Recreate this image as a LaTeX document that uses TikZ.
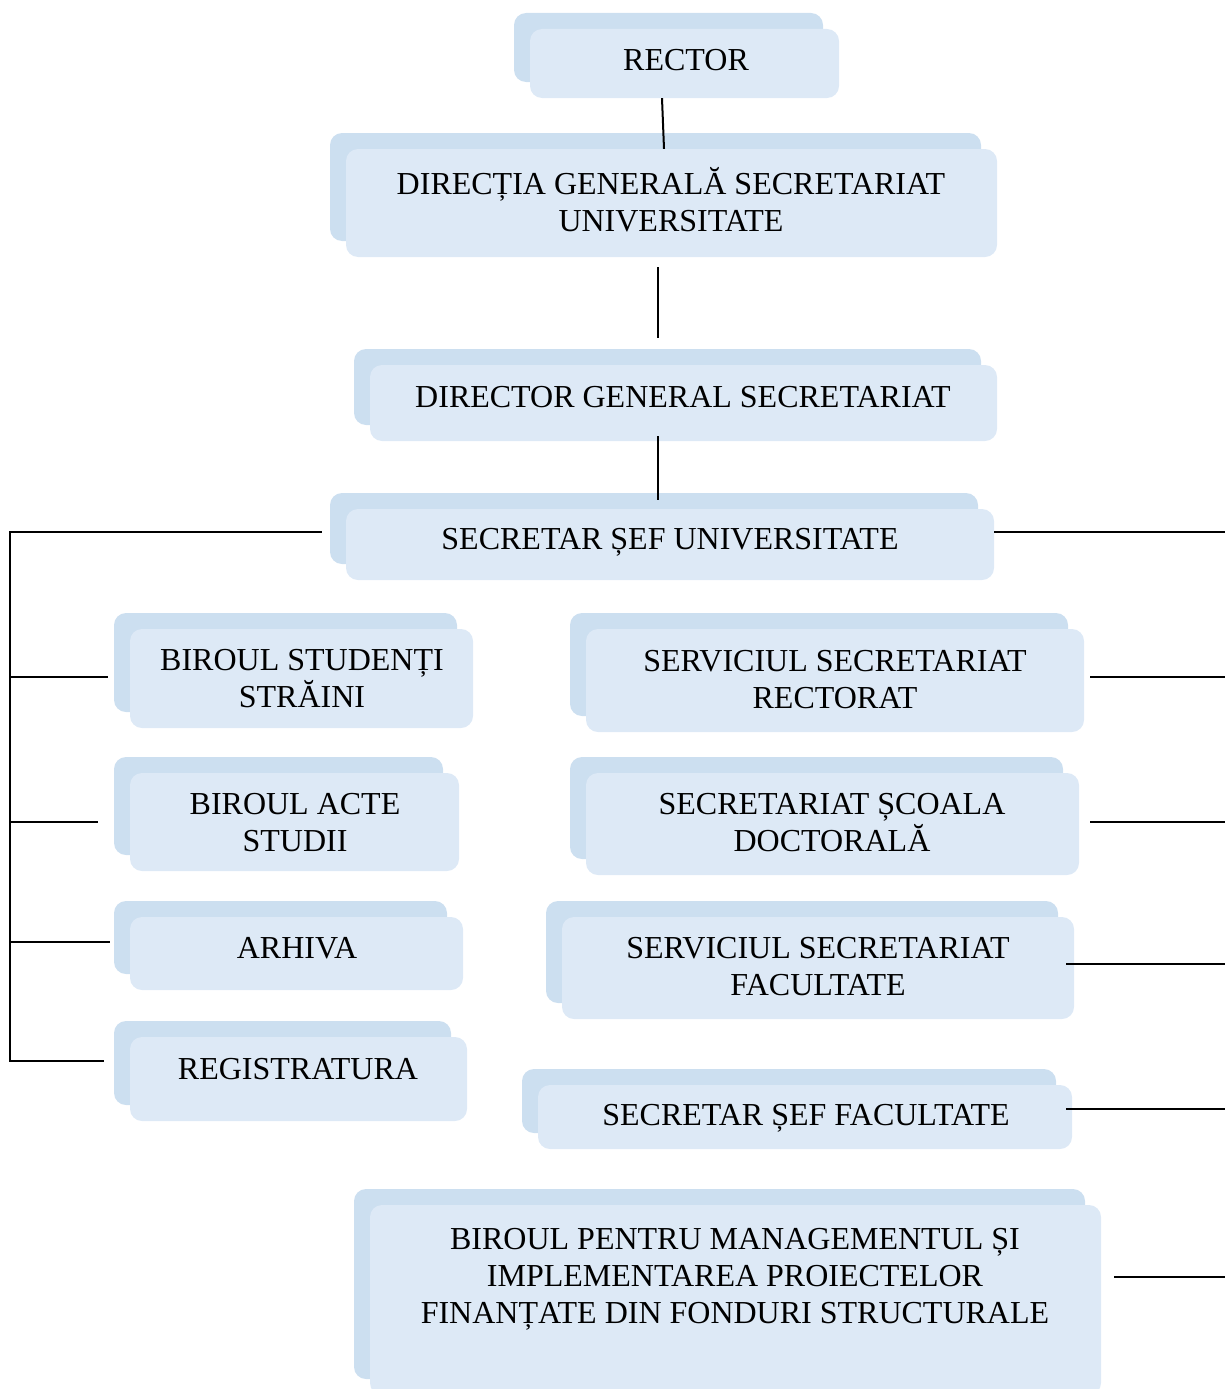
\documentclass[tikz,border=0pt]{standalone}
\usepackage{fontspec}
\setmainfont{Liberation Serif}
\usetikzlibrary{shadows}
\definecolor{boxback}{RGB}{204,223,240}
\definecolor{boxfront}{RGB}{221,233,246}
\tikzset{
  orgbox/.style={fill=boxfront, draw=none, rounded corners=12pt, inner sep=0pt,
    copy shadow={shadow xshift=-16pt, shadow yshift=16pt, fill=boxback, draw=none}},
  orgtext/.style={align=center, font=\fontsize{32}{37}\selectfont, inner sep=0pt},
  link/.style={line width=2pt, draw=black},
}
% \unitbox{name}{x1}{y1}{x2}{y2}: front panel of a unit, in pixel-like coordinates
\newcommand{\unitbox}[5]{%
  \node[orgbox, minimum width={#4-#2}, minimum height={#5-#3}]
    (#1) at ({(#2+#4)/2},{(#3+#5)/2}) {};}
\begin{document}
\begin{tikzpicture}[x=1pt,y=-1pt]
\useasboundingbox (0,0) rectangle (1225,1389);
\clip (0,0) rectangle (1225,1389);

% units
\unitbox{rector}{530}{29}{839}{98}
\unitbox{dir}{346}{149}{997}{257}
\unitbox{dgs}{370}{365}{997}{441}
\unitbox{ssu}{346}{509}{994}{580}
\unitbox{bss}{130}{629}{473}{728}
\unitbox{bas}{130}{773}{459}{871}
\unitbox{arh}{130}{917}{463}{990}
\unitbox{reg}{130}{1037}{467}{1121}
\unitbox{ssr}{586}{629}{1084}{732}
\unitbox{ssd}{586}{773}{1079}{875}
\unitbox{ssf}{562}{917}{1074}{1019}
\unitbox{ssfac}{538}{1085}{1072}{1149}
\unitbox{bpm}{370}{1205}{1101}{1395}

% unit names
\node[orgtext] (rector-t) at (686,60) {RECTOR};
\node[orgtext] (dir-t) at (671,200) {DIRECȚIA GENERALĂ SECRETARIAT\\UNIVERSITATE};
\node[orgtext] (dgs-t) at (683,397) {DIRECTOR GENERAL SECRETARIAT};
\node[orgtext] (ssu-t) at (670,542) {SECRETAR ȘEF UNIVERSITATE};
\node[orgtext] (bss-t) at (302,679) {BIROUL STUDENȚI\\STRĂINI};
\node[orgtext] (bas-t) at (295,823) {BIROUL ACTE\\STUDII};
\node[orgtext] (arh-t) at (297,948) {ARHIVA};
\node[orgtext] (reg-t) at (298,1069) {REGISTRATURA};
\node[orgtext] (ssr-t) at (835,680) {SERVICIUL SECRETARIAT\\RECTORAT};
\node[orgtext] (ssd-t) at (832,823) {SECRETARIAT ȘCOALA\\DOCTORALĂ};
\node[orgtext] (ssf-t) at (818,967) {SERVICIUL SECRETARIAT\\FACULTATE};
\node[orgtext] (ssfac-t) at (806,1118) {SECRETAR ȘEF FACULTATE};
\node[orgtext] (bpm-t) at (735,1279) {BIROUL PENTRU MANAGEMENTUL ȘI\\IMPLEMENTAREA PROIECTELOR\\FINANȚATE DIN FONDURI STRUCTURALE};

% vertical chain
\draw[link] ([xshift=-22.5pt]rector.south) -- ([xshift=-7.5pt]dir.north);
\draw[link] ([xshift=-13.5pt,yshift=-10pt]dir.south) -- ([xshift=-25.5pt,yshift=27pt]dgs.north);
\draw[link] ([xshift=-25.5pt,yshift=5pt]dgs.south) -- ([xshift=-12pt,yshift=9pt]ssu.north);

% left bus
\coordinate (spine) at (10,0);
\coordinate (ssu-l) at ([xshift=-24pt,yshift=12.5pt]ssu.west);
\coordinate (bss-l) at ([xshift=-22pt,yshift=1.5pt]bss.west);
\coordinate (bas-l) at ([xshift=-32pt]bas.west);
\coordinate (arh-l) at ([xshift=-20pt,yshift=12pt]arh.west);
\coordinate (reg-l) at ([xshift=-26pt,yshift=18pt]reg.west);
\draw[link] (ssu-l) -- (ssu-l -| spine) -- (reg-l -| spine) -- (reg-l);
\foreach \u in {bss,bas,arh}
  \draw[link] (\u-l) -- (\u-l -| spine);

% right bus
\coordinate (edge) at (1226,0);
\coordinate (ssu-r) at ([yshift=12.5pt]ssu.east);
\coordinate (ssr-r) at ([xshift=6pt,yshift=3.5pt]ssr.east);
\coordinate (ssd-r) at ([xshift=11pt,yshift=2pt]ssd.east);
\coordinate (ssf-r) at ([xshift=-8pt,yshift=4pt]ssf.east);
\coordinate (ssfac-r) at ([xshift=-6pt,yshift=8pt]ssfac.east);
\coordinate (bpm-r) at ([xshift=13pt,yshift=23pt]bpm.east);
\foreach \u in {ssu,ssr,ssd,ssf,ssfac,bpm}
  \draw[link] (\u-r) -- (\u-r -| edge);
\end{tikzpicture}
\end{document}
